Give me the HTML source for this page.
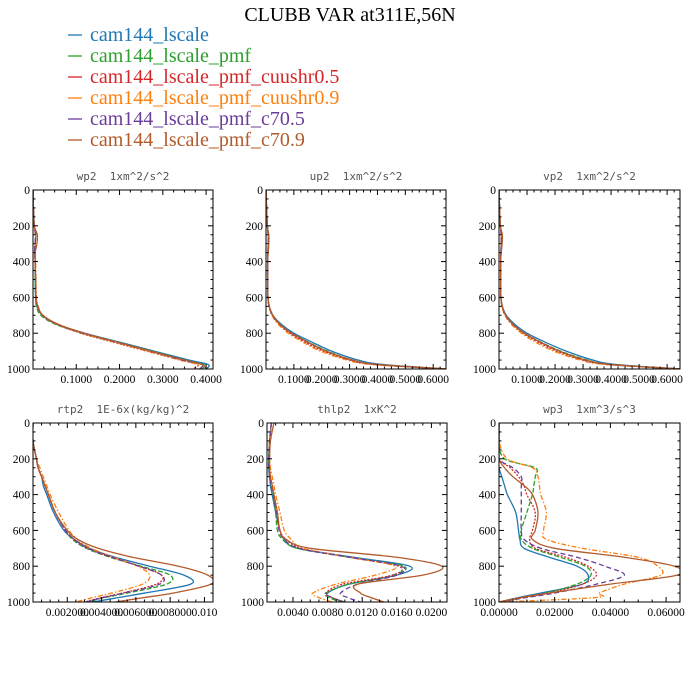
<!DOCTYPE html>
<html><head><meta charset="utf-8">
<style>
body{margin:0;background:#fff;width:700px;height:700px;overflow:hidden}
svg{display:block}
.tt{font-family:"Liberation Serif",serif}
.pt{font-family:"DejaVu Sans Mono","Liberation Mono",monospace;font-size:11px;fill:#555;white-space:pre}
.tk{font-family:"Liberation Serif",serif;font-size:11.5px;fill:#000}
</style></head><body>
<svg id="chart" width="700" height="700" viewBox="0 0 700 700">
<text x="350" y="21" text-anchor="middle" class="tt" font-size="20">CLUBB VAR at311E,56N</text>
<g id="legend"></g>
<g id="panels"></g>
</svg>
<script>
const seriesNames = ["cam144_lscale","cam144_lscale_pmf","cam144_lscale_pmf_cuushr0.5","cam144_lscale_pmf_cuushr0.9","cam144_lscale_pmf_c70.5","cam144_lscale_pmf_c70.9"];
const levels = [0,100,200,250,300,350,400,500,600,650,700,750,800,850,900,950,975,1000];
const yTicks = [0,200,400,600,800,1000];

const wp2Values = [
 [0,0.001,0.003,0.006,0.005,0.004,0.005,0.005,0.006,0.009,0.022,0.055,0.12,0.2,0.28,0.36,0.405,0.40],
 [0,0.001,0.003,0.006,0.005,0.004,0.005,0.005,0.006,0.008,0.018,0.052,0.115,0.195,0.275,0.35,0.395,0.39],
 [0,0.001,0.003,0.006,0.005,0.004,0.005,0.006,0.007,0.011,0.022,0.055,0.11,0.185,0.262,0.34,0.38,0.37],
 [0,0.001,0.003,0.006,0.005,0.005,0.006,0.007,0.008,0.012,0.023,0.056,0.112,0.188,0.264,0.34,0.38,0.38],
 [0,0.001,0.003,0.006,0.005,0.004,0.005,0.006,0.007,0.011,0.022,0.056,0.115,0.192,0.27,0.345,0.39,0.385],
 [0,0.001,0.003,0.01,0.009,0.005,0.005,0.006,0.007,0.011,0.023,0.058,0.118,0.194,0.272,0.35,0.39,0.40]];
const wp2Ticks = [0.1,0.2,0.3,0.4];
const wp2Labels = ["0.1000","0.2000","0.3000","0.4000"];

const up2Values = [
 [0,0.002,0.005,0.008,0.008,0.007,0.006,0.006,0.007,0.012,0.025,0.055,0.1,0.165,0.235,0.33,0.42,0.65],
 [0,0.002,0.005,0.008,0.008,0.007,0.006,0.006,0.007,0.011,0.023,0.05,0.092,0.152,0.22,0.31,0.40,0.65],
 [0,0.002,0.005,0.008,0.008,0.007,0.006,0.006,0.007,0.011,0.022,0.047,0.085,0.14,0.205,0.30,0.39,0.65],
 [0,0.002,0.005,0.008,0.008,0.007,0.006,0.006,0.007,0.011,0.021,0.044,0.08,0.132,0.195,0.29,0.38,0.65],
 [0,0.002,0.005,0.008,0.008,0.007,0.006,0.006,0.007,0.011,0.023,0.049,0.09,0.148,0.215,0.305,0.395,0.65],
 [0,0.002,0.005,0.01,0.01,0.008,0.006,0.006,0.007,0.012,0.024,0.05,0.092,0.15,0.215,0.31,0.40,0.65]];
const vp2Values = [
 [0,0.002,0.005,0.008,0.008,0.007,0.006,0.006,0.007,0.012,0.026,0.056,0.1,0.165,0.24,0.335,0.42,0.65],
 [0,0.002,0.005,0.008,0.008,0.007,0.006,0.006,0.007,0.011,0.023,0.05,0.09,0.15,0.22,0.315,0.40,0.65],
 [0,0.002,0.005,0.008,0.008,0.007,0.006,0.006,0.007,0.011,0.022,0.047,0.085,0.14,0.205,0.30,0.39,0.65],
 [0,0.002,0.005,0.008,0.008,0.007,0.006,0.006,0.007,0.011,0.021,0.044,0.08,0.13,0.195,0.29,0.38,0.65],
 [0,0.002,0.005,0.008,0.008,0.007,0.006,0.006,0.007,0.011,0.023,0.049,0.09,0.147,0.215,0.305,0.395,0.65],
 [0,0.002,0.005,0.012,0.011,0.008,0.006,0.006,0.007,0.012,0.024,0.05,0.09,0.148,0.215,0.31,0.40,0.65]];
const upTicks = [0.1,0.2,0.3,0.4,0.5,0.6];
const upLabels = ["0.1000","0.2000","0.3000","0.4000","0.5000","0.6000"];

const rtp2Values = [
 [0,0,0.0002,0.0003,0.0005,0.0006,0.0008,0.0012,0.0018,0.0024,0.0033,0.0048,0.0068,0.0088,0.0092,0.0065,0.005,0.0035],
 [0,0,0.0002,0.0003,0.0005,0.0007,0.0009,0.0013,0.0019,0.0023,0.0031,0.0045,0.0063,0.008,0.0078,0.0055,0.0042,0.0032],
 [0,0,0.0002,0.0003,0.0005,0.0007,0.0009,0.0013,0.0019,0.0024,0.0032,0.0046,0.0062,0.0075,0.0072,0.0052,0.004,0.003],
 [0,0,0.0002,0.0004,0.0006,0.0008,0.001,0.0015,0.0021,0.0026,0.0034,0.0047,0.0061,0.0068,0.0064,0.0046,0.0035,0.0025],
 [0,0,0.0002,0.0003,0.0005,0.0007,0.0009,0.0013,0.0019,0.0024,0.0032,0.0046,0.0062,0.0075,0.0074,0.0053,0.0041,0.0031],
 [0,0,0.0002,0.0003,0.0005,0.0007,0.0009,0.0013,0.002,0.0026,0.0038,0.0058,0.0085,0.0102,0.0104,0.0082,0.0065,0.0048]];
const rtpTicks = [0.002,0.004,0.006,0.008,0.010];
const rtpLabels = ["0.002000","0.004000","0.006000","0.008000","0.010"];

const thlp2Values = [
 [0.0015,0.0013,0.0012,0.0012,0.0013,0.0014,0.0016,0.002,0.0025,0.003,0.0045,0.011,0.0175,0.016,0.0105,0.008,0.0085,0.010],
 [0.0015,0.0013,0.0012,0.0012,0.0013,0.0015,0.0017,0.002,0.0022,0.0028,0.0045,0.0105,0.0168,0.0155,0.0105,0.0078,0.0082,0.0095],
 [0.0015,0.0013,0.0013,0.0013,0.0014,0.0016,0.0018,0.0022,0.0025,0.0032,0.005,0.0105,0.0162,0.0155,0.0098,0.0078,0.0085,0.0098],
 [0.0015,0.0013,0.0013,0.0014,0.0016,0.0018,0.002,0.0025,0.003,0.0038,0.0052,0.0105,0.0158,0.0135,0.009,0.0063,0.007,0.0085],
 [0.0015,0.0013,0.0012,0.0012,0.0013,0.0015,0.0017,0.0021,0.0024,0.003,0.0047,0.0105,0.0165,0.016,0.0115,0.0095,0.0103,0.0118],
 [0.0018,0.0014,0.0013,0.0013,0.0014,0.0016,0.0018,0.0022,0.0025,0.0032,0.006,0.016,0.0212,0.019,0.0115,0.0118,0.013,0.0145]];
const thlTicks = [0.004,0.008,0.012,0.016,0.020];
const thlLabels = ["0.0040","0.0080","0.0120","0.0160","0.0200"];

const wp3Values = [
 [0,0,0,0,0.001,0.002,0.003,0.006,0.007,0.0075,0.009,0.018,0.028,0.032,0.03,0.015,0.007,0],
 [0,0,0.002,0.013,0.013,0.0125,0.012,0.01,0.008,0.008,0.012,0.022,0.031,0.033,0.028,0.017,0.008,0],
 [0,0,0,0.004,0.007,0.009,0.01,0.013,0.012,0.011,0.013,0.024,0.032,0.035,0.03,0.018,0.009,0],
 [0,0,0.003,0.012,0.014,0.0145,0.015,0.017,0.016,0.017,0.03,0.05,0.057,0.058,0.045,0.036,0.035,0],
 [0,0,0,0.005,0.008,0.008,0.008,0.008,0.008,0.009,0.015,0.028,0.038,0.045,0.035,0.02,0.01,0],
 [0,0,0,0.002,0.005,0.009,0.012,0.014,0.013,0.012,0.02,0.045,0.063,0.064,0.04,0.018,0.008,0]];
const wp3Ticks = [0,0.02,0.04,0.06];
const wp3Labels = ["0.00000","0.02000","0.04000","0.06000"];

const colors = ["#1f77b4","#2ca02c","#d62728","#ff7f0e","#6a3d9a","#b35a2a"];
const dashes = ["", "5,2", "2,1.5", "5,2,1.5,2", "5,3", ""];
const NS = "http://www.w3.org/2000/svg";
function mk(tag, attrs, parent){const e=document.createElementNS(NS,tag);for(const k in attrs)e.setAttribute(k,attrs[k]);parent.appendChild(e);return e;}

const lg = document.getElementById("legend");
seriesNames.forEach((n,i)=>{
  const y = 41 + i*21;
  const ln = mk("line",{x1:68,x2:82,y1:y-6,y2:y-6,stroke:colors[i],"stroke-width":1.3},lg);
  
  
  const t = mk("text",{x:90,y:y,"font-size":20,fill:colors[i],class:"tt"},lg);
  t.textContent = n;
  
  
});

const panels = [
 {name:"wp2",title:"wp2  1xm^2/s^2",x:33,y:190,w:180,h:179,xmin:0,xmax:0.416,vals:wp2Values,ticks:wp2Ticks,labels:wp2Labels},
 {name:"up2",title:"up2  1xm^2/s^2",x:266,y:190,w:180,h:179,xmin:0,xmax:0.646,vals:up2Values,ticks:upTicks,labels:upLabels},
 {name:"vp2",title:"vp2  1xm^2/s^2",x:499,y:190,w:181,h:179,xmin:0,xmax:0.646,vals:vp2Values,ticks:upTicks,labels:upLabels},
 {name:"rtp2",title:"rtp2  1E-6x(kg/kg)^2",x:33,y:423,w:180,h:179,xmin:0,xmax:0.0105,vals:rtp2Values,ticks:rtpTicks,labels:rtpLabels},
 {name:"thlp2",title:"thlp2  1xK^2",x:267,y:423,w:180,h:179,xmin:0.001,xmax:0.0218,vals:thlp2Values,ticks:thlTicks,labels:thlLabels},
 {name:"wp3",title:"wp3  1xm^3/s^3",x:499,y:423,w:181,h:179,xmin:0,xmax:0.065,vals:wp3Values,ticks:wp3Ticks,labels:wp3Labels}
];

function smoothPath(pts){
  let d = "M"+pts[0][0].toFixed(2)+","+pts[0][1].toFixed(2);
  for(let i=0;i<pts.length-1;i++){
    const p0=pts[Math.max(0,i-1)],p1=pts[i],p2=pts[i+1],p3=pts[Math.min(pts.length-1,i+2)];
    const c1=[p1[0]+(p2[0]-p0[0])/6,p1[1]+(p2[1]-p0[1])/6];
    const c2=[p2[0]-(p3[0]-p1[0])/6,p2[1]-(p3[1]-p1[1])/6];
    d+=" C"+c1[0].toFixed(2)+","+c1[1].toFixed(2)+" "+c2[0].toFixed(2)+","+c2[1].toFixed(2)+" "+p2[0].toFixed(2)+","+p2[1].toFixed(2);
  }
  return d;
}

const root = document.getElementById("panels");
panels.forEach((p,pi)=>{
  const g = mk("g",{},root);
  
  
  const xs = v => p.x + (v-p.xmin)/(p.xmax-p.xmin)*p.w;
  const ys = v => p.y + v/1000*p.h;
  const t = mk("text",{x:p.x+p.w/2,y:p.y-10,"text-anchor":"middle",class:"pt"},g);
  t.textContent = p.title;
  
  
  const cp = mk("clipPath",{id:"cp"+pi},g);
  mk("rect",{x:p.x,y:p.y,width:p.w,height:p.h},cp);
  const lines = mk("g",{"clip-path":"url(#cp"+pi+")"},g);
  p.vals.forEach((arr,si)=>{
    const pts = arr.map((v,k)=>[xs(v),ys(levels[k])]);
    const a = {d:smoothPath(pts),fill:"none",stroke:colors[si],"stroke-width":1.3};
    if(dashes[si]) a["stroke-dasharray"]=dashes[si];
    const path = mk("path",a,lines);
    
    
  });
  const fr = mk("rect",{x:p.x,y:p.y,width:p.w,height:p.h,fill:"none",stroke:"#000","stroke-width":1},g);
  
  
  for(let v=0; v<=1000; v+=50){
    const major = v%200===0, L = major?5:2.5;
    mk("line",{x1:p.x,x2:p.x+L,y1:ys(v),y2:ys(v),stroke:"#000","stroke-width":1},g);
    mk("line",{x1:p.x+p.w,x2:p.x+p.w-L,y1:ys(v),y2:ys(v),stroke:"#000","stroke-width":1},g);
  }
  yTicks.forEach(v=>{
    const tl = mk("text",{x:p.x-3,y:ys(v)+4,"text-anchor":"end",class:"tk"},g);
    tl.textContent = v;
    
    
  });
  const step = (p.ticks[1]-p.ticks[0]);
  const minor = step/4;
  const start = Math.ceil(p.xmin/minor)*minor;
  for(let v=start; v<=p.xmax+1e-12; v+=minor){
    const isMaj = Math.abs(Math.round((v-p.ticks[0])/step)*step-(v-p.ticks[0]))<minor/10;
    const L = isMaj?5:2.5, x = xs(v);
    mk("line",{x1:x,x2:x,y1:p.y+p.h,y2:p.y+p.h-L,stroke:"#000","stroke-width":1},g);
    mk("line",{x1:x,x2:x,y1:p.y,y2:p.y+L,stroke:"#000","stroke-width":1},g);
  }
  p.ticks.forEach((v,k)=>{
    const tl = mk("text",{x:xs(v),y:p.y+p.h+14,"text-anchor":"middle",class:"tk"},g);
    tl.textContent = p.labels[k];
    
    
  });
});
</script>
</body></html>
